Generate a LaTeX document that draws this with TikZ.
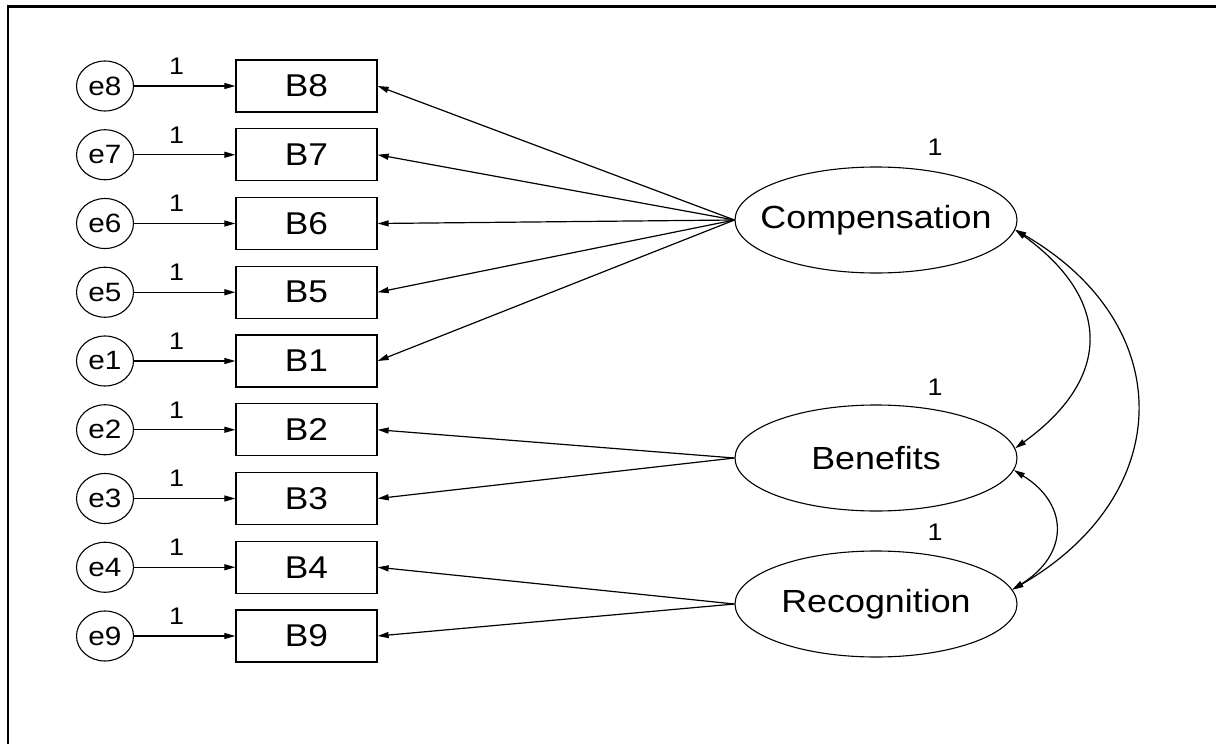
\documentclass[tikz,border=0pt]{standalone}
\usepackage{fontspec}
\setmainfont{Liberation Sans}
\usetikzlibrary{shapes.geometric,arrows.meta}
\newcommand{\wx}[1]{\scalebox{1.12}[1]{#1}}
\newcommand{\wz}[1]{\makebox[0pt][c]{\scalebox{1.12}[1]{#1}}}
\begin{document}
\begin{tikzpicture}[x=1pt,y=-1pt,
  obs/.style={draw, line width=1.3pt, minimum width=141pt, minimum height=52pt, inner sep=0pt, font=\fontsize{31.5}{31.5}\selectfont},
  err/.style={draw, ellipse, line width=1.1pt, minimum width=57pt, minimum height=50pt, inner sep=0pt, font=\fontsize{26.5}{26.5}\selectfont},
  lat/.style={draw, ellipse, line width=1.1pt, minimum width=282pt, minimum height=106pt, inner sep=0pt, font=\fontsize{32}{32}\selectfont},
  lab/.style={font=\fontsize{24}{24}\selectfont, inner sep=0pt},
  arr/.style={line width=1.2pt, -{Triangle[length=11pt,width=6pt]}},
  dbl/.style={line width=1.2pt, {Triangle[length=11pt,width=6pt]}-{Triangle[length=11pt,width=6pt]}}
]
\useasboundingbox (0,0) rectangle (1216,744);
\draw[line width=2.5pt] (8,744) -- (8,6.5) -- (1216,6.5);

\foreach \n [count=\i from 0] in {8,7,6,5,1,2,3,4,9} {
  \node[obs] (B\n) at (306.5, 86+68.75*\i) {\wx{B\n}};
  \node[err] (e\n) at (105, 86+68.75*\i) {\wz{e\n}};
  \draw[arr] (e\n) -- node[lab, pos=0.42, above=11pt] {\wx{1}} (B\n);
}

\node[lat] (comp) at (876,220) {\wz{Compensation}};
\node[lat] (ben) at (876,458) {\wz{Benefits}};
\node[lat] (rec) at (876,604) {\wz{Recognition}};
\node[lab] (vc) at (935,147) {\wx{1}};
\node[lab] (vb) at (935,387) {\wx{1}};
\node[lab] (vr) at (935,532) {\wx{1}};

\foreach \n in {8,7,6,5,1} { \draw[arr] (comp.west) -- (B\n.east); }
\foreach \n in {2,3} { \draw[arr] (ben.west) -- (B\n.east); }
\foreach \n in {4,9} { \draw[arr] (rec.west) -- (B\n.east); }

\draw[dbl] (comp.-4) .. controls +(97,70) and +(97,-70) .. (ben.4);
\draw[dbl] (comp.-4) .. controls +(164,95) and +(164,-95) .. (rec.6);
\draw[dbl] (ben.-5) .. controls +(56,35) and +(56,-35) .. (rec.6);
\end{tikzpicture}
\end{document}
